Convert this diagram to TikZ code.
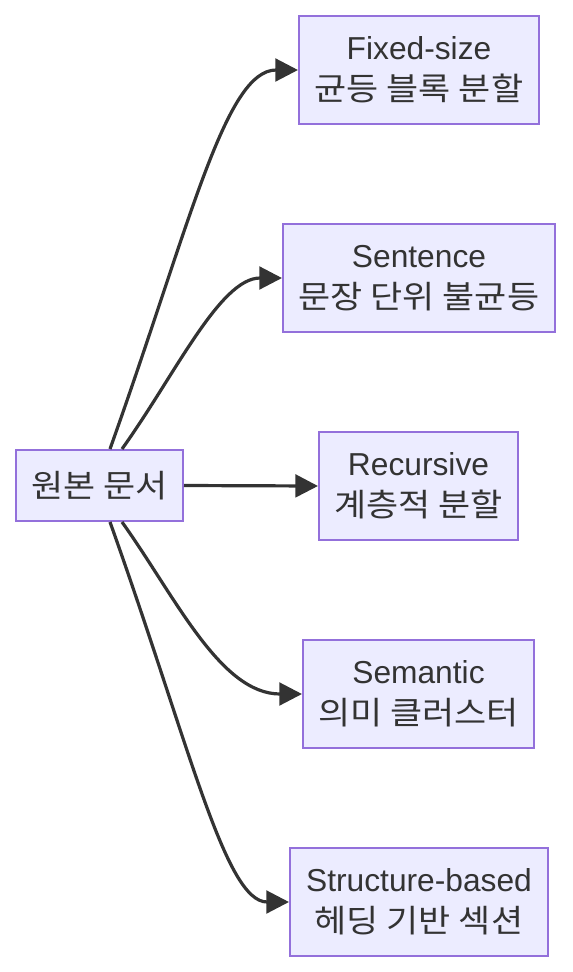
\documentclass[tikz,border=0pt]{standalone}
\usepackage{fontspec}
\setmainfont{Liberation Sans}
\newfontfamily\kr[FakeStretch=1.1]{Noto Sans CJK KR}
\usepackage{xcolor}
\usetikzlibrary{arrows.meta,positioning,calc}
\definecolor{nodefill}{HTML}{ECECFF}
\definecolor{nodeline}{HTML}{9370DB}
\definecolor{edgeline}{HTML}{333333}
\definecolor{textdark}{HTML}{333333}

\tikzset{
    chunkbox/.style={draw=nodeline, fill=nodefill, line width=1.5pt, text=textdark,
        align=center, inner sep=0pt, font=\fontsize{23.8}{30.75}\selectfont},
    flow/.style={draw=edgeline, line width=2.4pt,
        -{Triangle[length=17pt,width=17pt]}}
}

\begin{document}
\begin{tikzpicture}[x=0.75pt, y=-0.75pt]
    \useasboundingbox (0,0) rectangle (572,972);
    % source document
    \node[chunkbox, minimum width=125.25pt, minimum height=53.25pt] (src) at (99.5,485.5) {\kr 원본 문서};
    % chunking strategies
    \node[chunkbox, minimum width=180pt, minimum height=81pt] (fixed) at (419,70) {Fixed-size\\{\kr 균등 블록 분할}};
    \node[chunkbox, minimum width=204pt, minimum height=81pt] (sent) at (419,278) {Sentence\\{\kr 문장 단위 불균등}};
    \node[chunkbox, minimum width=149.25pt, minimum height=81pt] (recur) at (418.5,486) {Recursive\\{\kr 계층적 분할}};
    \node[chunkbox, minimum width=173.25pt, minimum height=81pt] (sema) at (418.5,694) {Semantic\\{\kr 의미 클러스터}};
    \node[chunkbox, minimum width=193.5pt, minimum height=81pt] (struct) at (419,902) {Structure-based\\{\kr 헤딩 기반 섹션}};

    % edges
    \draw[flow] ($(src.north)+(10.5,0)$) .. controls (190,225) and (225,70) .. (fixed.west);
    \draw[flow] ($(src.north)+(22.5,0)$) .. controls (175,375) and (220,278) .. (sent.west);
    \draw[flow] (src.east) -- (recur.west);
    \draw[flow] ($(src.south)+(22.5,0)$) .. controls (175,596) and (220,694) .. (sema.west);
    \draw[flow] ($(src.south)+(10.5,0)$) .. controls (190,746) and (225,902) .. (struct.west);
\end{tikzpicture}
\end{document}
